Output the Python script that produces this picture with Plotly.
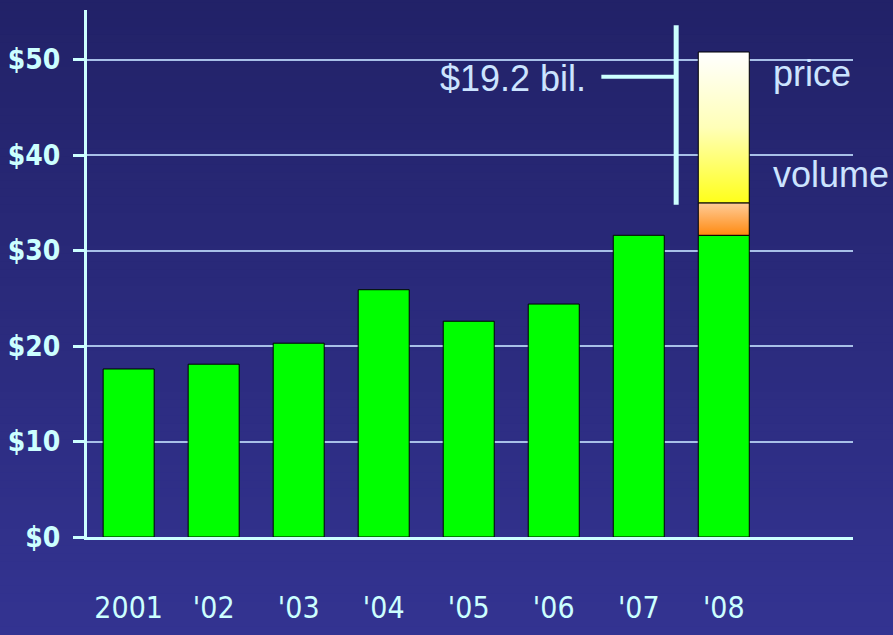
import plotly.graph_objects as go

# data
years = ['2001', "'02", "'03", "'04", "'05", "'06", "'07", "'08"]
base_values = [17.6, 18.1, 20.3, 25.9, 22.6, 24.4, 31.6, 31.6]
volume_added = [0, 0, 0, 0, 0, 0, 0, 3.4]
price_added = [0, 0, 0, 0, 0, 0, 0, 15.8]
y_ticks = [0, 10, 20, 30, 40, 50]
y_labels = ['$0', '$10', '$20', '$30', '$40', '$50']

BAR_W = 0.6
LIGHT = '#ccffff'
TEXT = '#cce4ff'
NARROW = 'Liberation Sans Narrow, Arial Narrow, DejaVu Sans Condensed, sans-serif'


# polygon for a gradient-filled stacked segment
def segment(i, bottom, height, colors):
    x0, x1 = i - BAR_W / 2, i + BAR_W / 2
    y0, y1 = bottom, bottom + height
    return go.Scatter(
        x=[x0, x1, x1, x0, x0],
        y=[y0, y0, y1, y1, y0],
        mode='lines',
        fill='toself',
        fillgradient=dict(type='vertical', colorscale=colors),
        line=dict(color='black', width=1),
        hoverinfo='skip',
        showlegend=False,
    )


idx = list(range(len(years)))

fig = go.Figure()
fig.add_trace(go.Bar(
    x=idx, y=base_values, width=BAR_W,
    marker=dict(color='#00ff00', line=dict(color='black', width=1)),
    showlegend=False,
))

for i in idx:
    if volume_added[i]:
        fig.add_trace(segment(i, base_values[i], volume_added[i],
                              [[0, '#ff8a10'], [1, '#ffcc99']]))
    if price_added[i]:
        fig.add_trace(segment(i, base_values[i] + volume_added[i], price_added[i],
                              [[0, '#ffff1a'], [0.5, '#ffffb8'], [1, '#ffffff']]))

# background gradient as thin strips
top_rgb = (34, 34, 104)
bot_rgb = (52, 52, 146)
shapes = []
n = 80
y_lo, y_hi = -0.2, 1.03
for k in range(n):
    t = k / (n - 1)
    c = tuple(int(bot_rgb[j] + (top_rgb[j] - bot_rgb[j]) * t) for j in range(3))
    shapes.append(dict(
        type='rect', xref='paper', yref='paper', layer='below',
        x0=-0.3, x1=1.2,
        y0=y_lo + (y_hi - y_lo) * k / n, y1=y_lo + (y_hi - y_lo) * (k + 1) / n + 0.002,
        fillcolor='rgb(%d,%d,%d)' % c, line=dict(width=0),
    ))

# bracket for the $19.2 bil. increase
shapes.append(dict(type='line', x0=6.44, x1=6.44, y0=34.8, y1=53.6,
                   line=dict(color=LIGHT, width=5)))
shapes.append(dict(type='line', x0=5.56, x1=6.44, y0=48.2, y1=48.2,
                   line=dict(color=LIGHT, width=4)))

annotations = [
    dict(x=5.4, y=48.0, text='$19.2 bil.', showarrow=False, xanchor='right',
         font=dict(size=36, color=TEXT)),
    dict(x=7.56, y=48.6, text='price', showarrow=False, xanchor='left',
         font=dict(size=36, color=TEXT)),
    dict(x=7.56, y=38.0, text='volume', showarrow=False, xanchor='left',
         font=dict(size=36, color=TEXT)),
]

fig.update_layout(
    width=893, height=635,
    margin=dict(l=87, r=40, t=10, b=98),
    paper_bgcolor='#2c2c80',
    plot_bgcolor='rgba(0,0,0,0)',
    font=dict(family='Liberation Sans, Arial, sans-serif', color=TEXT),
    shapes=shapes,
    annotations=annotations,
    xaxis=dict(
        range=[-0.49, 8.52],
        tickvals=idx, ticktext=years,
        showgrid=False, zeroline=False, automargin=False,
        showline=True, linecolor=LIGHT, linewidth=3,
        ticks='', ticklabelstandoff=42,
        tickfont=dict(family=NARROW, size=30, color=LIGHT),
    ),
    yaxis=dict(
        range=[0, 55.2],
        tickvals=y_ticks, ticktext=y_labels,
        showgrid=True, gridcolor='#a8c0e8', gridwidth=1.5,
        zeroline=False, automargin=False,
        showline=True, linecolor=LIGHT, linewidth=3,
        ticks='outside', ticklen=11, tickwidth=3, tickcolor=LIGHT,
        ticklabelstandoff=7,
        tickfont=dict(family=NARROW, size=28, color=LIGHT, weight='bold'),
    ),
)

fig.write_html("out.html", config={'displayModeBar': False},
               post_script="document.body.style.margin='0';")
